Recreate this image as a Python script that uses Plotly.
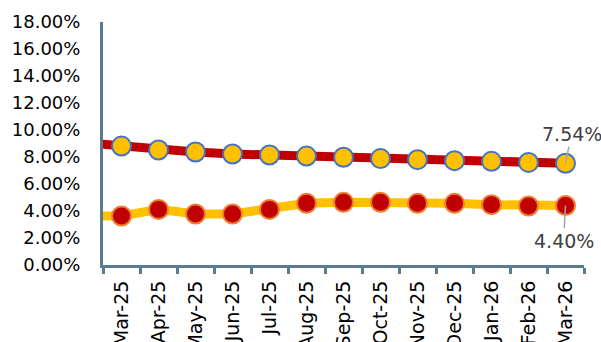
import plotly.graph_objects as go

# Data (Feb-25 point lies just outside the visible range; only its line segment shows)
months = ["Feb-25", "Mar-25", "Apr-25", "May-25", "Jun-25", "Jul-25", "Aug-25", "Sep-25",
          "Oct-25", "Nov-25", "Dec-25", "Jan-26", "Feb-26", "Mar-26"]
series_high = [9.05, 8.81, 8.52, 8.37, 8.22, 8.15, 8.07, 7.98, 7.88, 7.80, 7.73, 7.68, 7.60, 7.54]
series_low = [3.62, 3.63, 4.12, 3.78, 3.78, 4.12, 4.57, 4.64, 4.64, 4.57, 4.57, 4.47, 4.37, 4.40]
y_ticks = [0, 2, 4, 6, 8, 10, 12, 14, 16, 18]
y_tick_text = [f"{v:.2f}%" for v in y_ticks]

FONT = "DejaVu Sans"
AXIS = "#5A7A8E"

fig = go.Figure()
fig.add_trace(go.Scatter(
    x=months, y=series_high, mode="lines+markers",
    line=dict(color="#C00000", width=9),
    marker=dict(size=19, color="#FFC000", line=dict(color="#4472C4", width=2)),
    showlegend=False, hoverinfo="skip",
))
fig.add_trace(go.Scatter(
    x=months, y=series_low, mode="lines+markers",
    line=dict(color="#FFC000", width=9),
    marker=dict(size=19, color="#C00000", line=dict(color="#ED7D31", width=2)),
    showlegend=False, hoverinfo="skip",
))

fig.add_annotation(x=months[-1], y=series_high[-1], text=f"{series_high[-1]:.2f}%",
                   showarrow=True, arrowhead=0, arrowwidth=1.5, arrowcolor="#A6A6A6",
                   ax=6, ay=-29, font=dict(family=FONT, size=19, color="#404040"))
fig.add_annotation(x=months[-1], y=series_low[-1], text=f"{series_low[-1]:.2f}%",
                   showarrow=True, arrowhead=0, arrowwidth=1.5, arrowcolor="#A6A6A6",
                   ax=-2, ay=35, font=dict(family=FONT, size=19, color="#404040"))

fig.update_xaxes(
    type="category", range=[0.5, 13.5], tickson="boundaries", automargin=False,
    ticks="outside", ticklen=6, tickwidth=3, tickcolor=AXIS,
    showline=True, linecolor=AXIS, linewidth=3, showgrid=False,
    tickangle=-90, ticklabelstandoff=5,
    tickfont=dict(family=FONT, size=19, color="#000000"),
)
fig.update_yaxes(
    range=[0, 18], tickvals=y_ticks, ticktext=y_tick_text, automargin=False,
    showline=True, linecolor=AXIS, linewidth=3, showgrid=False, zeroline=False,
    ticks="", ticklabelstandoff=16,
    tickfont=dict(family=FONT, size=18, color="#000000"),
)
fig.update_layout(
    width=601, height=342,
    margin=dict(l=103, r=17, t=22, b=77, autoexpand=False),
    plot_bgcolor="white", paper_bgcolor="white",
)
fig.write_html("out.html", config={"displayModeBar": False},
               post_script="document.body.style.margin='0';document.body.style.overflow='hidden';")
